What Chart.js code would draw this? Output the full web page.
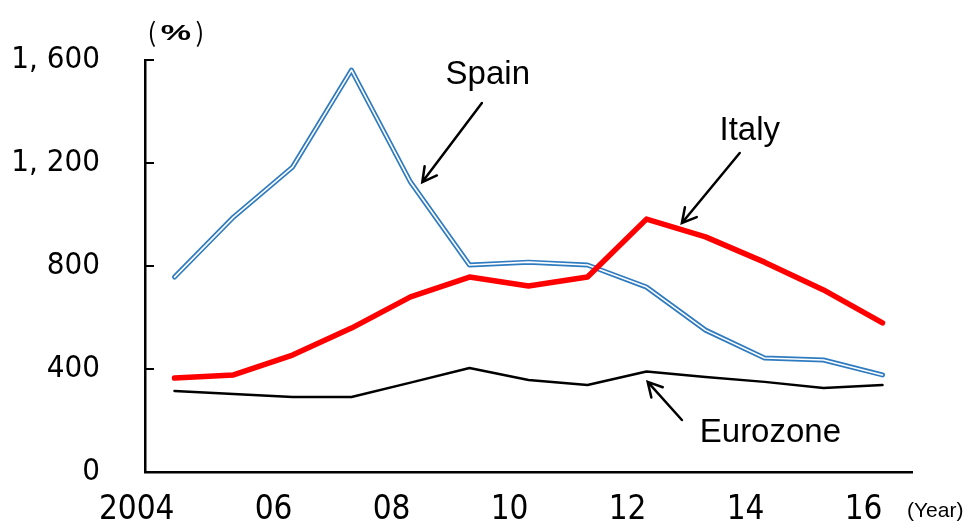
<!DOCTYPE html>
<html>
<head>
<meta charset="utf-8">
<script src="https://cdn.jsdelivr.net/npm/chart.js@4/dist/chart.umd.min.js"></script>
<style>
  html, body { margin: 0; padding: 0; background: #fff; }
  #wrap { width: 973px; height: 525px; }
  canvas { display: block; }
</style>
</head>
<body>
<div id="wrap"><canvas id="myChart" width="973" height="525"></canvas></div>
<script>
// years 2004 .. 2016
const years = ["2004", "05", "06", "07", "08", "09", "10", "11", "12", "13", "14", "15", "16"];
const yTicks = [0, 400, 800, 1200, 1600];

const spain = [757, 990, 1184, 1561, 1126, 804, 815, 804, 718, 551, 443, 435, 377];
const italy = [365, 377, 454, 559, 680, 757, 722, 757, 982, 913, 815, 707, 579];
const eurozone = [315, 303, 291, 291, 347, 404, 357, 338, 390, 369, 350, 326, 338];

// annotation text and arrows (category index, value)
const notes = [
    { text: "Spain", x: 5.31, y: 1505 },
    { text: "Italy", x: 9.75, y: 1289 },
    { text: "Eurozone", x: 10.1, y: 116 }
];
const arrows = [
    { from: [5.21, 1433], to: [4.2, 1126] },
    { from: [9.58, 1239], to: [8.6, 967] },
    { from: [8.6, 202], to: [8.02, 350] }
];

const tickFont = '"Liberation Sans Narrow", "DejaVu Sans Condensed", "Noto Sans", "Liberation Sans", sans-serif';

const extras = {
    id: 'extras',
    afterDraw(chart) {
        const c = chart.ctx;
        const xs = chart.scales.x, ys = chart.scales.y;
        c.save();
        // inward ticks on the y axis
        c.strokeStyle = '#000';
        c.lineWidth = 2;
        yTicks.forEach(v => {
            if (v === 0) return;
            const py = ys.getPixelForValue(v);
            c.beginPath();
            c.moveTo(xs.left, py);
            c.lineTo(xs.left + 9, py);
            c.stroke();
        });
        // arrows
        c.lineWidth = 2.5;
        c.lineCap = 'round';
        arrows.forEach(a => {
            const x1 = xs.getPixelForValue(a.from[0]), y1 = ys.getPixelForValue(a.from[1]);
            const x2 = xs.getPixelForValue(a.to[0]), y2 = ys.getPixelForValue(a.to[1]);
            const ang = Math.atan2(y2 - y1, x2 - x1);
            c.beginPath();
            c.moveTo(x1, y1);
            c.lineTo(x2, y2);
            c.moveTo(x2 - 16 * Math.cos(ang - 0.5), y2 - 16 * Math.sin(ang - 0.5));
            c.lineTo(x2, y2);
            c.lineTo(x2 - 16 * Math.cos(ang + 0.5), y2 - 16 * Math.sin(ang + 0.5));
            c.stroke();
        });
        // labels
        c.fillStyle = '#000';
        c.textAlign = 'center';
        c.textBaseline = 'alphabetic';
        c.font = '33px "Liberation Sans", Arial, sans-serif';
        notes.forEach(n => {
            c.fillText(n.text, xs.getPixelForValue(n.x), ys.getPixelForValue(n.y));
        });
        // unit label (%)
        c.textBaseline = 'middle';
        c.font = '26px "Noto Sans CJK JP", sans-serif';
        c.fillText('(', 152, 32);
        c.fillText(')', 200, 32);
        c.save();
        c.translate(176, 34);
        c.scale(1.55, 1);
        c.font = 'bold 22px "Liberation Sans", Arial, sans-serif';
        c.fillText('%', 0, 0);
        c.restore();
        c.font = '21px "Liberation Sans", Arial, sans-serif';
        c.textAlign = 'left';
        c.fillText('(Year)', 907, 511);
        c.restore();
    }
};

const ctx = document.getElementById("myChart").getContext("2d");

new Chart(ctx, {
    type: 'line',
    data: {
        labels: years,
        datasets: [
            { label: 'Italy', data: italy, borderColor: '#FF0000', borderWidth: 5.5, order: 0 },
            { label: 'Spain', data: spain, borderColor: '#ffffff', borderWidth: 1.6, order: 1 },
            { label: 'Spain', data: spain, borderColor: '#2F7BC0', borderWidth: 5, order: 2 },
            { label: 'Eurozone', data: eurozone, borderColor: '#000000', borderWidth: 2.5, order: 3 }
        ]
    },
    options: {
        responsive: false,
        animation: false,
        layout: { autoPadding: false, padding: { top: 60, right: 61, left: 0, bottom: 0 } },
        elements: {
            point: { radius: 0 },
            line: { tension: 0, borderCapStyle: 'round', borderJoinStyle: 'round', fill: false }
        },
        plugins: { legend: { display: false }, tooltip: { enabled: false } },
        scales: {
            x: {
                offset: true,
                grid: { display: false, drawTicks: false },
                border: { display: true, color: '#000', width: 2.5 },
                afterFit: s => { s.height = 53; },
                ticks: {
                    autoSkip: false,
                    maxRotation: 0,
                    align: 'end',
                    padding: 32,
                    color: '#000',
                    font: { family: tickFont, style: 'condensed', size: 33, lineHeight: 0.4 },
                    callback: (v, i) => (i % 2 === 0 ? years[i] : '')
                }
            },
            y: {
                min: 0,
                max: 1600,
                afterFit: s => { s.width = 145; },
                afterBuildTicks: s => { s.ticks = yTicks.map(v => ({ value: v })); },
                grid: { display: false, drawTicks: false },
                border: { display: true, color: '#000', width: 2.5 },
                ticks: {
                    padding: 45,
                    color: '#000',
                    font: { family: tickFont, style: 'condensed', size: 31, lineHeight: 0.4 },
                    callback: v => (v >= 1000 ? Math.floor(v / 1000) + ', ' + String(v % 1000).padStart(3, '0') : String(v))
                }
            }
        }
    },
    plugins: [extras]
});
</script>
</body>
</html>
